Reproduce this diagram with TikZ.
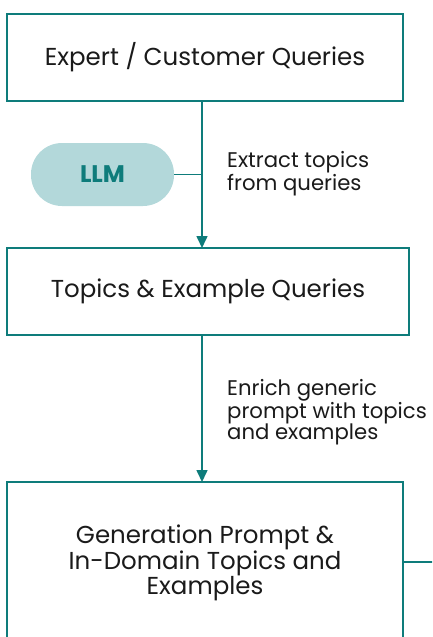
\documentclass[tikz,border=0pt]{standalone}
\usepackage{fontspec}
\setmainfont{Poppins}
\usetikzlibrary{arrows.meta}
\definecolor{teal1}{HTML}{0E7C7B}
\definecolor{pill}{HTML}{B3D8DA}
\definecolor{ink}{HTML}{1A1A1A}
\tikzset{
  box/.style={draw=teal1, line width=2pt, fill=white, text=ink, align=center,
    font=\fontsize{24.5}{24}\selectfont, inner sep=0pt},
  flow/.style={draw=teal1, line width=1.6pt, -{Triangle[length=12pt,width=11pt]}},
  link/.style={draw=teal1, line width=1.6pt},
  note/.style={text=ink, align=left, anchor=north west, inner sep=0pt,
    font=\fontsize{21.2}{21.5}\selectfont},
}
\begin{document}
\begin{tikzpicture}[x=1pt,y=-1pt]
\useasboundingbox (0,0) rectangle (432,637);
\clip (0,0) rectangle (432,637);
\node[box, minimum width=396pt, minimum height=87pt] (q) at (205,57.5) {Expert / Customer Queries};
\node[box, minimum width=402pt, minimum height=87pt] (t) at (208,291.5) {Topics \& Example Queries};
\node[box, minimum width=396pt, minimum height=162pt] (g) at (205,563)
  {Generation Prompt \&\\In-Domain Topics and\\Examples};
\node[fill=pill, rounded corners=31pt, minimum width=143pt, minimum height=63pt,
  text=teal1, font=\fontsize{24}{24}\selectfont\bfseries, inner sep=0pt] (llm) at (102.5,174.5) {LLM};
\coordinate (j) at (202,174.5);
\coordinate (out) at (440,562);
\draw[flow] (202,101) -- (202,248);
\draw[link] (llm.east) -- (j);
\draw[flow] (202,335) -- (202,482);
\draw[link] (g.east |- out) -- (out);
\node[note] (n1) at (227,151) {Extract topics\\from queries};
\node[note] (n2) at (227,379) {Enrich generic\\prompt with topics\\and examples};
\end{tikzpicture}
\end{document}
